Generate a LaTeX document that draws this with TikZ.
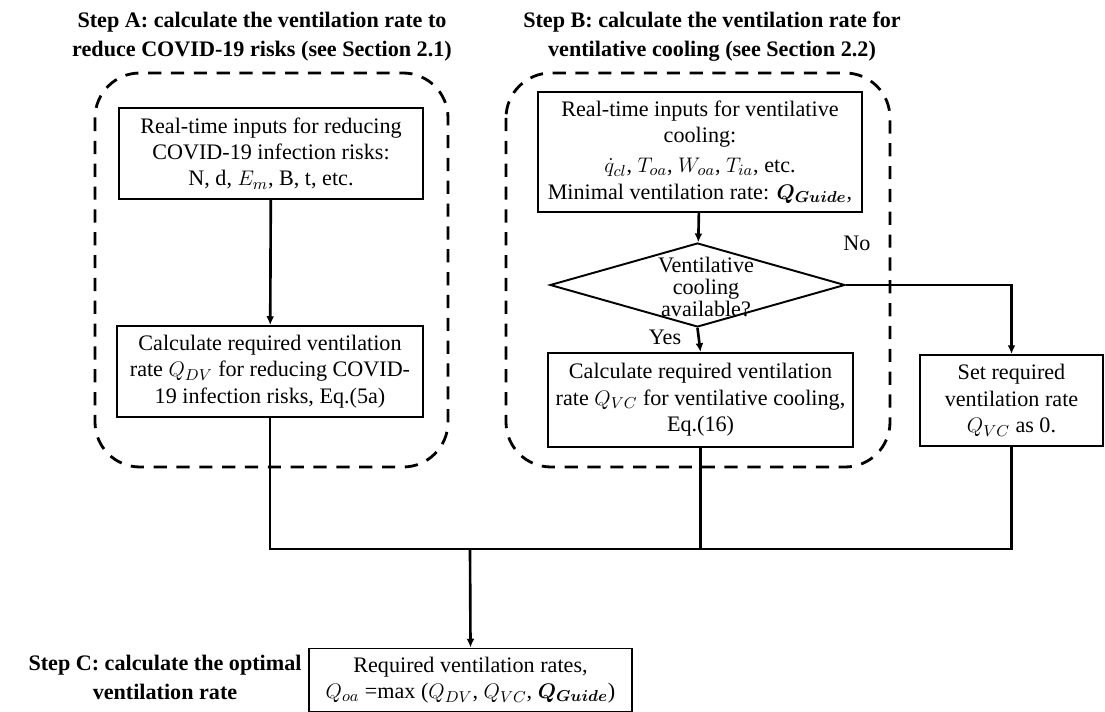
\documentclass[tikz,border=0pt]{standalone}
\usepackage{fontspec}
\setmainfont{Liberation Serif}
\usepackage{amsmath}
\usetikzlibrary{shapes.geometric, arrows.meta, positioning}
\definecolor{ink}{RGB}{20,20,20}

\begin{document}
\begin{tikzpicture}[x=0.02cm, y=-0.02cm,
	procbox/.style={draw, line width=1.1pt, align=center, inner sep=0pt},
	decision/.style={draw, diamond, line width=1.1pt, inner sep=0pt, minimum width=5.9cm, minimum height=1.68cm},
	frame/.style={line width=1.6pt, dash pattern=on 7.5pt off 5.5pt, rounded corners=0.9cm},
	heading/.style={align=center, font=\fontsize{12.6}{16.5}\selectfont\bfseries},
	flow/.style={line width=1.5pt},
	>={Latex[length=5pt,width=4.5pt]}]
	\fontsize{12.6}{15}\selectfont
	\useasboundingbox (0,0) rectangle (1105,712);

	% step headings
	\node[heading] (stepA) at (262,37) {Step A: calculate the ventilation rate to\\reduce COVID-19 risks (see Section 2.1)};
	\node[heading] (stepB) at (712,37) {Step B: calculate the ventilation rate for\\ventilative cooling (see Section 2.2)};
	\node[heading] (stepC) at (165,677) {Step C: calculate the optimal\\ventilation rate};

	% dashed frames
	\draw[frame] (95,73) rectangle (448,467);
	\draw[frame] (506,73) rectangle (890,467);

	% step A
	\node[procbox, minimum width=6.08cm, minimum height=1.82cm] (inA) at (271,153.5) {Real-time inputs for reducing\\COVID-19 infection risks:\\N, d, $E_m$, B, t, etc.};
	\node[procbox, minimum width=6.12cm, minimum height=1.82cm] (calcA) at (270,371.5) {Calculate required ventilation\\rate $Q_{DV}$ for reducing COVID-\\19 infection risks, Eq.(5a)};

	% step B
	\node[procbox, minimum width=6.48cm, minimum height=2.4cm] (inB) at (700,152) {Real-time inputs for ventilative\\cooling:\\[2pt]$\dot{q}_{cl}$, $T_{oa}$, $W_{oa}$, $T_{ia}$, etc.\\Minimal ventilation rate: {\boldmath$Q_{Guide}$},};
	\node[decision] (avail) at (697.5,285) {};
	\node[align=center, font=\fontsize{12.6}{12.6}\selectfont] (availtxt) at (706,287) {Ventilative\\cooling\\available?};
	\node[procbox, minimum width=6.1cm, minimum height=1.88cm] (calcB) at (700.5,400) {Calculate required ventilation\\rate $Q_{VC}$ for ventilative cooling,\\Eq.(16)};
	\node[procbox, minimum width=3.66cm, minimum height=1.82cm] (zeroB) at (1011.5,400.5) {Set required\\ventilation rate\\$Q_{VC}$ as 0.};
	\node (yes) at (665,337) {Yes};
	\node (no) at (857,243) {No};

	% step C
	\node[procbox, minimum width=6.46cm, minimum height=1.26cm] (outC) at (470.5,680) {Required ventilation rates,\\$Q_{oa}$ =max ($Q_{DV}$, $Q_{VC}$, {\boldmath$Q_{Guide}$})};

	% connectors
	\coordinate (bus) at (470,549);
	\draw[flow, ->] (inA) -- (calcA);
	\draw[flow, ->] (inB) -- (avail);
	\draw[flow, ->] (avail.south) -- (calcB.north);
	\draw[flow, ->] (avail.east) -| (zeroB.north);
	\draw[flow] (calcA.south) |- (zeroB.south |- bus) -- (zeroB.south);
	\draw[flow] (calcB.south) -- (calcB.south |- bus);
	\draw[flow, ->] (bus) -- (outC.north);
\end{tikzpicture}
\end{document}
